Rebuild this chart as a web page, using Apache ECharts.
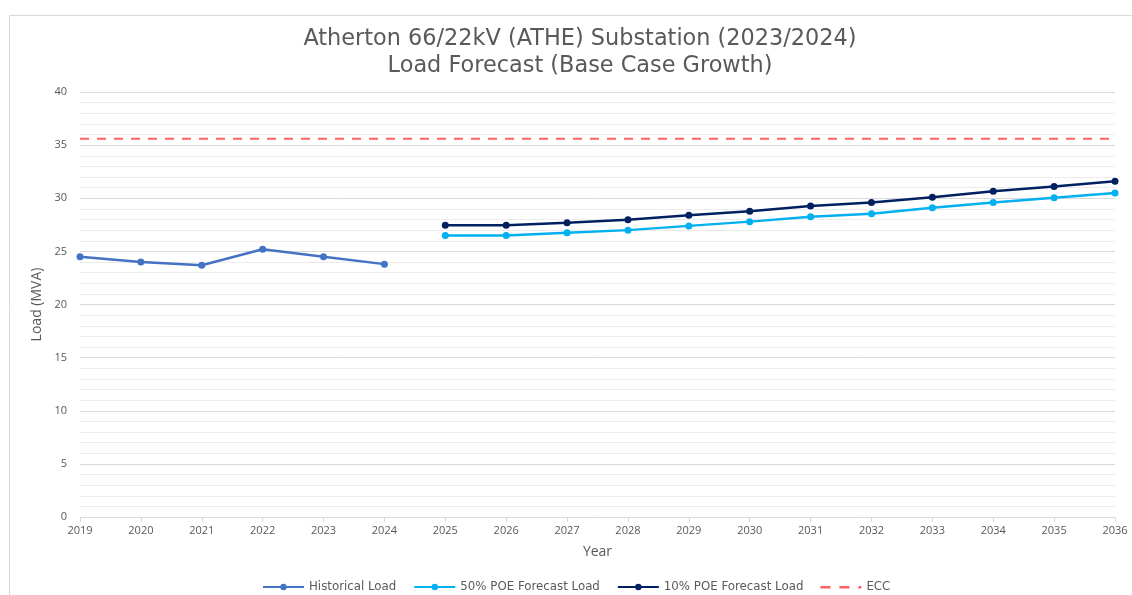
<!DOCTYPE html>
<html>
<head>
<meta charset="utf-8">
<script src="https://cdn.jsdelivr.net/npm/echarts@6/dist/echarts.min.js"></script>
<style>
html,body{margin:0;padding:0;background:#fff;}
#chart{width:1132px;height:595px;}
</style>
</head>
<body>
<div id="chart"></div>
<script>
const years = ['2019','2020','2021','2022','2023','2024','2025','2026','2027','2028','2029','2030','2031','2032','2033','2034','2035','2036'];
const historical = [24.5, 24.0, 23.7, 25.2, 24.5, 23.8, null, null, null, null, null, null, null, null, null, null, null, null];
const poe50 = [null, null, null, null, null, null, 26.5, 26.5, 26.75, 27.0, 27.4, 27.8, 28.25, 28.55, 29.1, 29.6, 30.05, 30.5];
const poe10 = [null, null, null, null, null, null, 27.45, 27.45, 27.7, 27.98, 28.4, 28.77, 29.27, 29.6, 30.1, 30.65, 31.1, 31.6];
const ecc = [35.6, 35.6, 35.6, 35.6, 35.6, 35.6, 35.6, 35.6, 35.6, 35.6, 35.6, 35.6, 35.6, 35.6, 35.6, 35.6, 35.6, 35.6];
const yTicks = [0, 5, 10, 15, 20, 25, 30, 35, 40];

const chart = echarts.init(document.getElementById('chart'), null, {renderer: 'canvas'});
const txt = '#595959';
const font = 'Open Sans';
const dashIcon = 'path://M0,0h0.01v0.01h-0.01z M41,8h-0.01v-0.01h0.01z M0,3H10V5.5H0Z M19,3H29V5.5H19Z M38,3H41V5.5H38Z';
chart.setOption({
  animation: false,
  backgroundColor: '#ffffff',
  graphic: [{
    type: 'rect', left: 7, top: 13, shape: {width: 1140, height: 600},
    style: {fill: 'none', stroke: '#d9d9d9', lineWidth: 1}, silent: true, z: -1
  }],
  title: {
    text: 'Atherton 66/22kV (ATHE) Substation (2023/2024)\nLoad Forecast (Base Case Growth)',
    left: 575, top: 21, textAlign: 'center',
    textStyle: {fontFamily: 'DejaVu Sans', fontSize: 22.4, fontWeight: 'normal', color: txt, lineHeight: 27}
  },
  legend: {
    top: 576, left: 257,
    itemWidth: 41, itemHeight: 8, itemGap: 17,
    textStyle: {fontFamily: 'DejaVu Sans', fontSize: 11.8, color: txt},
    data: ['Historical Load', '50% POE Forecast Load', '10% POE Forecast Load',
           {name: 'ECC', icon: dashIcon}]
  },
  grid: {left: 80, right: 17, top: 92, bottom: 78, containLabel: false},
  xAxis: {
    type: 'category', data: years, boundaryGap: false,
    name: 'Year', nameLocation: 'middle', nameGap: 28,
    nameTextStyle: {fontFamily: font, fontSize: 14, color: txt},
    axisLine: {lineStyle: {color: '#d9d9d9'}},
    axisTick: {show: true, alignWithLabel: true, length: 5, lineStyle: {color: '#d9d9d9'}},
    axisLabel: {fontFamily: font, fontSize: 11, color: txt, margin: 8},
    splitLine: {show: false}
  },
  yAxis: {
    type: 'value', min: yTicks[0], max: yTicks[yTicks.length - 1], interval: 5,
    name: 'Load (MVA)', nameLocation: 'middle', nameGap: 34,
    nameTextStyle: {fontFamily: font, fontSize: 14, color: txt},
    axisLine: {show: false}, axisTick: {show: false},
    axisLabel: {fontFamily: font, fontSize: 11, color: txt, margin: 13},
    splitLine: {lineStyle: {color: '#d9d9d9', width: 1}},
    minorTick: {show: false, splitNumber: 5},
    minorSplitLine: {show: true, lineStyle: {color: '#ececec', width: 1}}
  },
  series: [
    {name: 'Historical Load', type: 'line', data: historical, symbol: 'circle', symbolSize: 7,
     lineStyle: {color: '#4472C4', width: 2.5}, itemStyle: {color: '#4472C4'}, connectNulls: false},
    {name: '50% POE Forecast Load', type: 'line', data: poe50, symbol: 'circle', symbolSize: 7,
     lineStyle: {color: '#00B0F0', width: 2.5}, itemStyle: {color: '#00B0F0'}},
    {name: '10% POE Forecast Load', type: 'line', data: poe10, symbol: 'circle', symbolSize: 7,
     lineStyle: {color: '#002060', width: 2.5}, itemStyle: {color: '#002060'}},
    {name: 'ECC', type: 'line', data: ecc, symbol: 'none', showSymbol: false,
     lineStyle: {color: '#FF5F5F', width: 2, type: [9, 8]}, itemStyle: {color: '#FF5F5F'}}
  ]
});
</script>
</body>
</html>
